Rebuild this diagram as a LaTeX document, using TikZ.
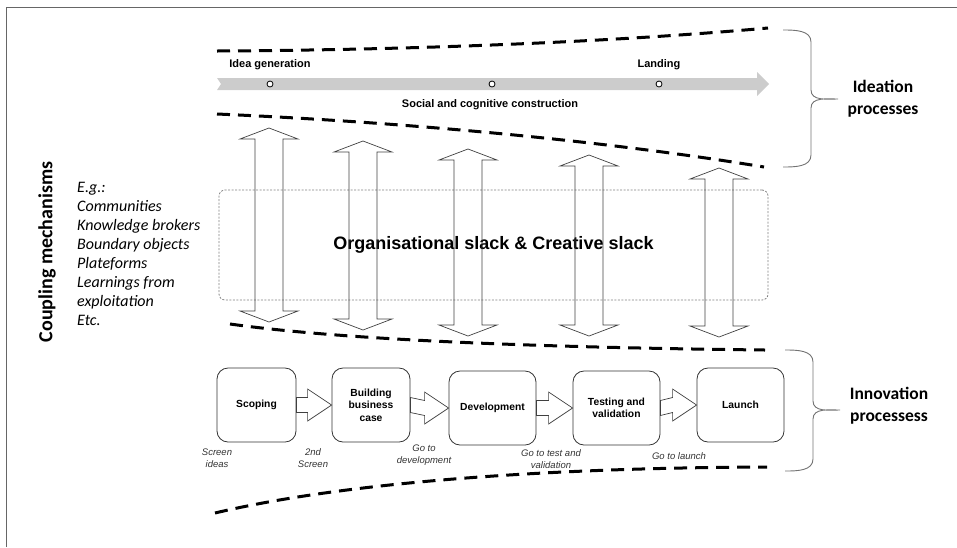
\documentclass[tikz,border=0pt]{standalone}
\usepackage{fontspec}
\setmainfont{Liberation Sans}
\newfontfamily\calibfont{Carlito}
\usetikzlibrary{calc,positioning}

\tikzset{
    edgeline/.style={line width=3pt, dash pattern=on 13pt off 8pt},
    track/.style={fill=black!20},
    milestone/.style={circle, draw, fill=white, line width=0.8pt, inner sep=0pt, minimum size=6pt},
    tracklabel/.style={font=\fontsize{11}{13}\selectfont\bfseries},
    stage/.style={draw=black!80, line width=0.8pt, rounded corners=11pt, align=center,
        minimum height=74pt, font=\fontsize{10.3}{12.5}\selectfont\bfseries},
    gate/.style={font=\fontsize{9.5}{12}\selectfont\itshape, text=black!80, align=center},
    blockarrow/.style={draw=black!75, line width=0.7pt, fill=white},
    couplearrow/.style={draw=black!75, line width=0.7pt},
    bracket/.style={draw=black!55, line width=0.9pt},
    heading/.style={font=\calibfont\bfseries\fontsize{17.5}{22}\selectfont, align=center},
}

% two-headed link between the ideation band and the stage-gate line
\newcommand{\couple}[3]{%
    \draw[couplearrow] (#1-14,#2+11) -- (#1-29,#2+11) -- (#1,#2) -- (#1+29,#2+11) -- (#1+14,#2+11)
        -- (#1+14,#3-11) -- (#1+29,#3-11) -- (#1,#3) -- (#1-29,#3-11) -- (#1-14,#3-11) -- cycle;}

% fat arrow from one stage to the next
\newcommand{\stagearrow}[2]{%
    \draw[blockarrow] ($(#1.east)+(0,-7.5)$) -- ($(#2.west)+(-24,-7.5)$) -- ($(#2.west)+(-24,-16)$)
        -- (#2.west) -- ($(#2.west)+(-24,16)$) -- ($(#2.west)+(-24,7.5)$) -- ($(#1.east)+(0,7.5)$) -- cycle;}

\begin{document}
\begin{tikzpicture}[x=1pt, y=-1pt]
    \useasboundingbox (0,0) rectangle (957,547);
    \draw[black!60, line width=1pt] (6,547) -- (6,7) -- (957,7);

    % ideation band
    \draw[edgeline] (217,51) .. controls (400,50) and (600,43) .. (768,28);
    \draw[edgeline] (217,114) .. controls (400,122) and (600,140) .. (764,167);
    \fill[track] (217,78) -- (757,78) -- (757,72) -- (769,84) -- (757,96) -- (757,90) -- (217,90) -- (221,84) -- cycle;
    \node[milestone] (m1) at (270,84) {};
    \node[milestone] (m2) at (492,84) {};
    \node[milestone] (m3) at (659,84) {};
    \node[tracklabel] (idea) at (270,65) {Idea generation};
    \node[tracklabel] (landing) at (659,65) {Landing};
    \node[tracklabel] (social) at (490,105) {Social and cognitive construction};

    \draw[bracket] (783,30) to[out=0,in=90] (811,42) -- (811,90) to[out=-90,in=180] (838,99)
        to[out=180,in=90] (811,108) -- (811,155) to[out=-90,in=0] (783,167);
    \node[heading] (ideation) at (883,99) {Ideation\\processes};

    % coupling zone
    \node[draw=black!50, line width=0.8pt, dash pattern=on 2pt off 1.5pt, rounded corners=6pt,
        minimum width=549pt, minimum height=110pt, font=\fontsize{18}{20}\selectfont\bfseries]
        (slack) at (493.5,245) {Organisational slack \& Creative slack};
    \couple{269}{128}{322}
    \couple{363}{141}{330}
    \couple{468}{149}{336}
    \couple{589}{155}{336}
    \couple{719}{168}{337}

    \node[font=\calibfont\bfseries\fontsize{20}{24}\selectfont, rotate=90] (coupling) at (47,252) {Coupling mechanisms};
    \node[font=\calibfont\itshape\fontsize{16}{19}\selectfont, align=left, anchor=west, inner sep=0pt]
        (examples) at (77,253.5) {E.g.:\\Communities\\Knowledge brokers\\Boundary objects\\Plateforms\\Learnings from\\exploitation\\Etc.};

    % innovation band
    \draw[edgeline] (230,324) .. controls (330,338) and (500,347) .. (765,350);
    \draw[edgeline] (215,513) .. controls (320,488) and (500,468) .. (767,467);

    \node[stage, minimum width=79pt] (scoping) at (256.5,405) {Scoping};
    \node[stage, minimum width=78pt] (bizcase) at (371,405) {Building\\business\\case};
    \node[stage, minimum width=87pt] (develop) at (492.5,408) {Development};
    \node[stage, minimum width=87pt] (testing) at (616.5,408) {Testing and\\validation};
    \node[stage, minimum width=87pt] (launch) at (740.5,405) {Launch};

    \stagearrow{scoping}{bizcase}
    \stagearrow{bizcase}{develop}
    \stagearrow{develop}{testing}
    \stagearrow{testing}{launch}

    \node[gate] (g1) at (217,458) {Screen\\ideas};
    \node[gate] (g2) at (313,458) {2nd\\Screen};
    \node[gate] (g3) at (424,455) {Go to\\development};
    \node[gate] (g4) at (551,459) {Go to test and\\validation};
    \node[gate] (g5) at (679,456) {Go to launch};

    \draw[bracket] (785,350) to[out=0,in=90] (813,362) -- (813,401) to[out=-90,in=180] (840,410)
        to[out=180,in=90] (813,419) -- (813,459) to[out=-90,in=0] (785,471);
    \node[heading] (innovation) at (889,406) {Innovation\\processess};
\end{tikzpicture}
\end{document}
